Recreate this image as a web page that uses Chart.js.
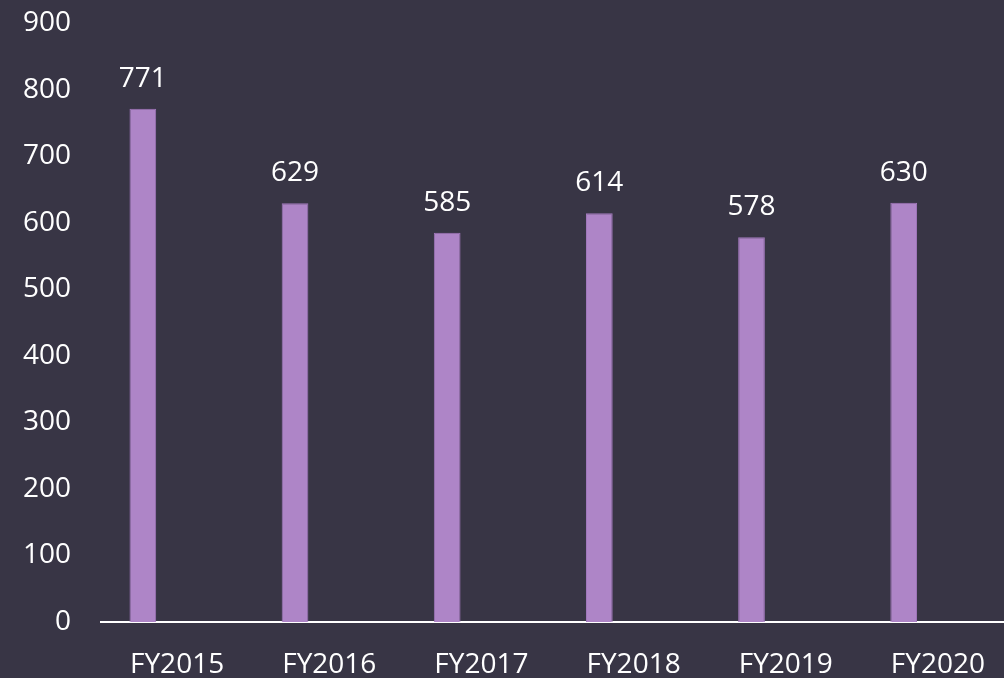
<!DOCTYPE html>
<html>
<head>
<meta charset="utf-8">
<script src="https://cdn.jsdelivr.net/npm/chart.js@4"></script>
<style>
  html, body { margin: 0; padding: 0; background: #383545; overflow: hidden; }
  #wrap { width: 1014px; height: 678px; position: relative; }
</style>
</head>
<body>
<div id="wrap"><canvas id="chart"></canvas></div>
<script>
// -----------------------
// Data
// -----------------------
const years = ['FY2015', 'FY2016', 'FY2017', 'FY2018', 'FY2019', 'FY2020'];
const values = [771, 629, 585, 614, 578, 630];
const emptySeries = [null, null, null, null, null, null];
const yTicks = [0, 100, 200, 300, 400, 500, 600, 700, 800, 900];

const FONT = '"Open Sans", sans-serif';

// value labels above bars
const valueLabels = {
  id: 'valueLabels',
  afterDatasetsDraw(chart) {
    const ctx = chart.ctx;
    const meta = chart.getDatasetMeta(0);
    ctx.save();
    ctx.fillStyle = '#ffffff';
    ctx.font = '28px ' + FONT;
    ctx.textAlign = 'center';
    ctx.textBaseline = 'middle';
    meta.data.forEach((bar, i) => {
      ctx.fillText(String(values[i]), bar.x, bar.y - 30);
    });
    ctx.restore();
  }
};

new Chart(document.getElementById('chart'), {
  type: 'bar',
  data: {
    labels: years,
    datasets: [
      {
        data: values,
        backgroundColor: '#ae85c7',
        borderColor: '#a077bb',
        borderWidth: 1,
        categoryPercentage: 0.9,
        barPercentage: 0.39
      },
      {
        data: emptySeries,
        backgroundColor: 'transparent',
        categoryPercentage: 0.9,
        barPercentage: 0.39
      }
    ]
  },
  options: {
    responsive: true,
    maintainAspectRatio: false,
    animation: false,
    layout: { padding: { top: 23, right: 0, left: 0, bottom: 0 } },
    plugins: { legend: { display: false }, tooltip: { enabled: false } },
    scales: {
      x: {
        grid: { display: false, drawTicks: false },
        border: { display: true, color: '#ffffff', width: 2 },
        ticks: { color: '#ffffff', font: { family: FONT, size: 28 }, padding: 26, maxRotation: 0 },
        afterFit: s => { s.height = 56; s.paddingLeft = 0; s.paddingRight = 0; }
      },
      y: {
        min: 0,
        max: 900,
        afterBuildTicks: s => { s.ticks = yTicks.map(v => ({ value: v })); },
        grid: { display: false, drawTicks: false },
        border: { display: false },
        ticks: { color: '#ffffff', font: { family: FONT, size: 28 }, padding: 30 },
        afterFit: s => { s.width = 101; s.paddingTop = 0; s.paddingBottom = 0; }
      }
    }
  },
  plugins: [valueLabels]
});
</script>
</body>
</html>
